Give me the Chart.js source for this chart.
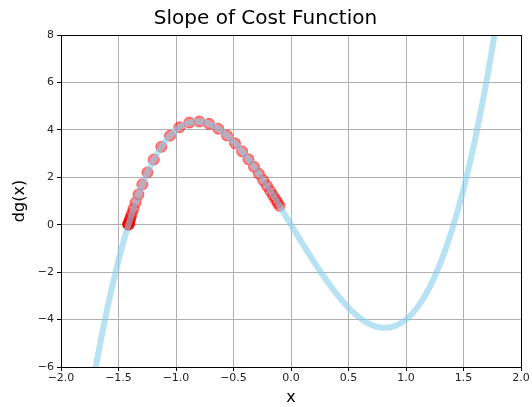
<!DOCTYPE html>
<html>
<head>
<meta charset="utf-8">
<script src="https://cdn.jsdelivr.net/npm/chart.js@4.4.0/dist/chart.umd.min.js"></script>
<style>
  html, body { margin: 0; padding: 0; background: #fff; }
  #chart { display: block; }
</style>
</head>
<body>
<canvas id="chart" width="532" height="407"></canvas>
<script>
// curve: dg(x)
const curveX = [-1.8, -1.7, -1.6, -1.5, -1.4, -1.3, -1.2, -1.1, -1.0, -0.9, -0.8, -0.7, -0.6, -0.5, -0.4, -0.3, -0.2, -0.1,
    0.0, 0.1, 0.2, 0.3, 0.4, 0.5, 0.6, 0.7, 0.8, 0.9, 1.0, 1.1, 1.2, 1.3, 1.4, 1.5, 1.6, 1.7, 1.8, 1.9];
const curveY = [-8.93, -6.05, -3.58, -1.5, 0.22, 1.61, 2.69, 3.48, 4.0, 4.28, 4.35, 4.23, 3.94, 3.5, 2.94, 2.29, 1.57, 0.8,
    0.0, -0.8, -1.57, -2.29, -2.94, -3.5, -3.94, -4.23, -4.35, -4.28, -4.0, -3.48, -2.69, -1.61, -0.22, 1.5, 3.58, 6.05, 8.93, 12.24];

// red markers along the descent
const stepX = [-0.1, -0.1159, -0.1343, -0.1556, -0.1802, -0.2086, -0.2413, -0.2787, -0.3216, -0.3704, -0.4256, -0.4875,
    -0.5563, -0.6315, -0.7124, -0.7975, -0.8845, -0.9706, -1.0528, -1.1279, -1.1936, -1.2485, -1.2926, -1.3266,
    -1.3521, -1.3707, -1.384, -1.3934, -1.3999, -1.4044, -1.4076, -1.4097, -1.4111, -1.4121, -1.4128, -1.4133,
    -1.4136, -1.4138, -1.4139];
const stepY = [0.796, 0.921, 1.065, 1.23, 1.419, 1.633, 1.874, 2.143, 2.44, 2.76, 3.096, 3.437, 3.762, 4.045, 4.253,
    4.351, 4.308, 4.107, 3.755, 3.284, 2.747, 2.204, 1.702, 1.274, 0.929, 0.665, 0.468, 0.328, 0.227, 0.156,
    0.106, 0.072, 0.049, 0.033, 0.023, 0.015, 0.011, 0.007, 0.005];

const xTicks = [-2.0, -1.5, -1.0, -0.5, 0.0, 0.5, 1.0, 1.5, 2.0];
const yTicks = [-6, -4, -2, 0, 2, 4, 6, 8];

const FONT = "'DejaVu Sans', sans-serif";
const minus = s => String(s).replace("-", "\u2212");

// black box round the plot, like the reference
const frame = {
    id: "frame",
    afterDraw(chart) {
        const { ctx, chartArea: a } = chart;
        ctx.save();
        ctx.strokeStyle = "#000";
        ctx.lineWidth = 1;
        ctx.strokeRect(Math.round(a.left) + 0.5, Math.round(a.top) + 0.5,
            Math.round(a.right - a.left), Math.round(a.bottom - a.top));
        ctx.restore();
    }
};

new Chart(document.getElementById("chart"), {
    type: "scatter",
    data: {
        datasets: [
            // first dataset is painted last, so the blue line sits over the markers
            {
                type: "line",
                data: curveX.map((x, i) => ({ x: x, y: curveY[i] })),
                borderColor: "rgba(135,206,235,0.6)",
                borderWidth: 6,
                pointRadius: 0,
                cubicInterpolationMode: "monotone",
                fill: false
            },
            {
                data: stepX.map((x, i) => ({ x: x, y: stepY[i] })),
                backgroundColor: "rgba(255,0,0,0.5)",
                borderColor: "rgba(255,0,0,0.5)",
                borderWidth: 1,
                pointRadius: 5.5,
                showLine: false
            }
        ]
    },
    options: {
        responsive: false,
        animation: false,
        layout: { padding: { left: 10, right: 11, top: 0, bottom: 0 } },
        plugins: {
            legend: { display: false },
            tooltip: { enabled: false },
            title: {
                display: true,
                text: "Slope of Cost Function",
                color: "#000",
                font: { family: FONT, size: 20, weight: "normal" },
                padding: { top: 7, bottom: 4 }
            }
        },
        scales: {
            x: {
                type: "linear",
                min: -2, max: 2,
                afterBuildTicks: s => { s.ticks = xTicks.map(v => ({ value: v })); },
                afterFit: s => { s.height = 40; },
                ticks: {
                    color: "#222",
                    font: { family: FONT, size: 11 },
                    padding: 1,
                    maxRotation: 0,
                    callback: v => minus(v.toFixed(1))
                },
                grid: { color: "#b0b0b0", lineWidth: 1, tickColor: "#000", tickLength: 4 },
                border: { display: false },
                title: {
                    display: true, text: "x", color: "#000",
                    font: { family: FONT, size: 16 }, padding: { top: 0, bottom: 0 }
                }
            },
            y: {
                min: -6, max: 8,
                afterBuildTicks: s => { s.ticks = yTicks.map(v => ({ value: v })); },
                afterFit: s => { s.width = 51; },
                ticks: {
                    color: "#222",
                    font: { family: FONT, size: 11 },
                    padding: 3,
                    callback: v => minus(v)
                },
                grid: { color: "#b0b0b0", lineWidth: 1, tickColor: "#000", tickLength: 4 },
                border: { display: false },
                title: {
                    display: true, text: "dg(x)", color: "#000",
                    font: { family: FONT, size: 16 }, padding: { top: 0, bottom: 0 }
                }
            }
        }
    },
    plugins: [frame]
});
</script>
</body>
</html>
